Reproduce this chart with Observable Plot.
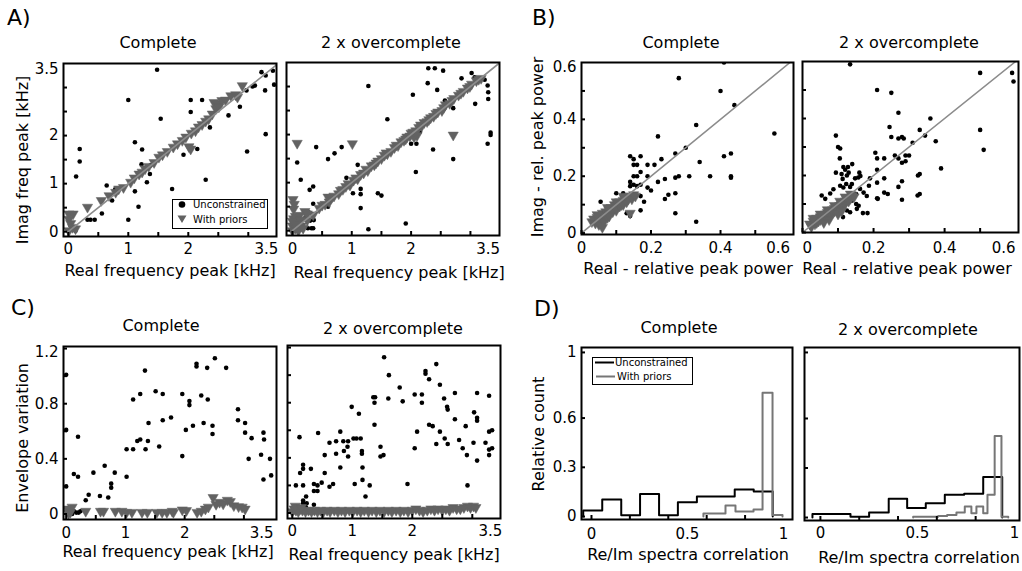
<!DOCTYPE html>
<html><head><meta charset="utf-8">
<script src="https://cdn.jsdelivr.net/npm/d3@7"></script>
<script src="https://cdn.jsdelivr.net/npm/@observablehq/plot@0.6"></script>
<style>
body{margin:0;background:#fff;}
#fig{position:relative;width:1022px;height:571px;overflow:hidden;font-family:"DejaVu Sans",sans-serif;color:#000;background:#fff;}
#fig svg{position:absolute;}
.t{position:absolute;white-space:nowrap;line-height:1;transform:translate(-50%,-50%);}
.ty{position:absolute;white-space:nowrap;line-height:1;transform:translate(-50%,-50%) rotate(-90deg);}
.tl{position:absolute;white-space:nowrap;line-height:1;transform:translate(0,-50%);}
.lg{position:absolute;box-sizing:border-box;border:1px solid #000;background:#fff;font-size:10px;line-height:1;}
.lg .tl{font-size:10px;}
</style></head><body><div id="fig"></div>
<script>
// ---------- data ----------
const titles = ["Complete", "2 x overcomplete"];
const panelLetters = ["A)", "B)", "C)", "D)"];
const xLabelA = "Real frequency peak [kHz]", yLabelA = "Imag freq peak [kHz]";
const xLabelB = "Real - relative peak power", yLabelB = "Imag - rel. peak power";
const xLabelC = "Real frequency peak [kHz]", yLabelC = "Envelope variation";
const xLabelD = "Re/Im spectra correlation", yLabelD = "Relative count";
const legendNames = ["Unconstrained", "With priors"];

const ticksFreq = [0, 0.5, 1, 1.5, 2, 2.5, 3];
const labelsFreq = [0, 1, 2, 3.5];
const ticksPow = [0, 0.1, 0.2, 0.3, 0.4, 0.5];
const labelsPow = [0, 0.2, 0.4, 0.6];
const ticksEnv = [0, 0.2, 0.4, 0.6, 0.8, 1, 1.2];
const labelsEnv = [0, 0.4, 0.8, 1.2];
const ticksCorr = [0, 0.2, 0.4, 0.6, 0.8];
const labelsCorr = [0, 0.5, 1];
const ticksCount = [0, 0.3, 0.6, 1];
const labelsCount = [0, 0.3, 0.6, 1];
const diagFreq = [0, 3.5];
const diagPow = [0, 0.6];

const a1Dots = [[1.48,3.37],[1.0,2.74],[2.04,2.74],[2.23,2.74],[2.04,2.49],[1.54,2.35],[2.86,2.60],[2.67,2.42],[2.36,2.17],[3.29,2.03],[2.98,1.67],[2.15,1.72],[1.92,1.60],[2.29,1.08],[1.73,0.89],[1.11,1.86],[1.23,1.71],[1.22,1.40],[1.31,1.03],[1.36,1.20],[1.11,0.84],[1.17,0.52],[1.0,0.25],[0.64,0.96],[0.73,0.65],[0.56,0.38],[0.37,0.25],[0.44,0.25],[0.32,0.25],[0.19,1.72],[0.19,1.46],[0.13,1.15],[0.12,0.02],[0.04,0.12],[3.22,3.32],[3.41,3.35],[3.29,3.25],[3.28,2.94],[3.43,3.06],[2.97,2.94],[3.07,3.02],[3.11,3.04],[0.78,0.88],[1.37,1.38]];
const a1Tri = [[0.01,0.37],[0.08,0.37],[0.01,0.26],[0.04,0.17],[0.07,0.09],[0.01,0.02],[0.12,0.06],[0.32,0.51],[0.55,0.65],[0.68,0.75],[0.79,0.82],[0.84,0.89],[0.92,0.92],[1.04,1.03],[1.18,1.20],[1.28,1.31],[1.34,1.36],[1.43,1.44],[1.51,1.55],[1.57,1.60],[1.65,1.67],[1.75,1.76],[1.90,1.90],[1.96,1.97],[2.01,1.77],[2.04,1.72],[2.05,2.05],[2.12,2.10],[2.23,2.23],[2.29,2.30],[2.34,2.35],[2.40,2.45],[2.43,2.69],[2.49,2.66],[2.56,2.73],[2.62,2.74],[2.71,2.83],[2.79,2.85],[2.90,3.04],[2.82,2.80],[2.46,2.56],[2.51,2.60],[1.10,1.12],[1.23,1.24],[1.82,1.83],[2.17,2.18]];

const a2Dots = [[2.29,3.38],[2.40,3.38],[2.54,3.33],[2.28,3.07],[2.44,2.93],[1.28,3.01],[2.03,2.83],[2.57,2.71],[2.71,2.55],[2.85,3.17],[3.02,3.28],[3.07,3.19],[3.24,3.14],[3.29,3.02],[3.30,2.88],[3.08,2.64],[3.30,2.74],[3.34,2.04],[3.34,1.99],[3.29,1.81],[2.71,1.49],[1.60,2.32],[2.13,2.20],[2.15,2.06],[2.09,1.81],[2.0,1.81],[2.37,1.69],[2.08,1.22],[0.40,1.74],[0.83,1.74],[0.71,1.61],[0.60,1.49],[0.08,1.42],[0.14,1.06],[0.29,0.85],[0.35,0.92],[0.35,0.56],[0.28,0.38],[0.91,1.10],[1.02,0.78],[1.15,0.87],[1.15,0.76],[1.10,1.37],[1.15,0.47],[1.44,0.78],[1.50,0.73],[0.60,0.50],[1.28,0.03],[1.91,0.15],[0.21,0.26],[0.32,0.05],[0.35,0.05],[0.26,0.05],[0.36,0.22],[0.30,0.21]];
const a2Tri = [[0.08,1.82],[1.01,1.81],[2.71,1.99],[0.21,0.40],[0.01,0.65],[0.03,0.55],[0.02,0.45],[0.0,0.1],[0.05,0.05],[0.1,0.0],[0.02,0.25],[0.1,0.2],[0.15,0.1],[0.05,0.3],[0.12,0.32],[0.0,0.0],[0.08,0.15],[0.0,0.2],[0.06,0.12],[0.14,0.22],[0.18,0.05],[0.25,0.22],[0.35,0.33],[0.45,0.47],[0.55,0.55],[0.62,0.6],[0.7,0.72],[0.78,0.77],[0.85,0.86],[0.9,0.92],[0.97,0.95],[1.03,1.05],[1.1,1.08],[1.15,1.17],[1.2,1.2],[1.27,1.25],[1.33,1.35],[1.38,1.37],[1.44,1.45],[1.5,1.5],[1.55,1.57],[1.6,1.6],[1.66,1.65],[1.72,1.73],[1.78,1.77],[1.83,1.85],[1.88,1.88],[1.93,1.95],[1.98,1.97],[2.03,2.05],[2.08,2.08],[2.13,2.15],[2.18,2.18],[2.22,2.25],[2.27,2.27],[2.33,2.35],[2.38,2.38],[2.45,2.47],[2.52,2.5],[2.58,2.62],[2.65,2.65],[2.72,2.75],[2.8,2.82],[2.88,2.9],[2.95,2.97],[3.02,3.05],[3.1,3.12],[3.18,3.17],[2.05,1.95],[2.1,1.98],[0.6,0.7],[0.25,0.35],[0.5,0.53],[0.66,0.69],[0.81,0.84],[0.94,0.98],[1.07,1.1],[1.24,1.28],[1.41,1.41],[1.58,1.62],[1.75,1.78],[1.91,1.91],[2.0,2.03],[2.16,2.2],[2.3,2.31],[2.42,2.44],[2.55,2.56],[2.69,2.71],[2.84,2.86],[2.99,3.0],[3.14,3.15]];

const b1Dots = [[0.41,0.60],[0.28,0.545],[0.40,0.50],[0.44,0.45],[0.33,0.38],[0.22,0.34],[0.30,0.30],[0.34,0.25],[0.43,0.28],[0.41,0.27],[0.27,0.28],[0.23,0.26],[0.14,0.27],[0.17,0.27],[0.15,0.26],[0.16,0.24],[0.19,0.24],[0.21,0.24],[0.15,0.24],[0.15,0.20],[0.16,0.20],[0.14,0.18],[0.17,0.215],[0.19,0.20],[0.24,0.19],[0.22,0.18],[0.19,0.16],[0.20,0.15],[0.31,0.20],[0.28,0.20],[0.27,0.195],[0.37,0.20],[0.43,0.20],[0.43,0.195],[0.27,0.14],[0.25,0.135],[0.24,0.12],[0.17,0.13],[0.18,0.11],[0.17,0.08],[0.14,0.165],[0.15,0.17],[0.13,0.07],[0.14,0.06],[0.10,0.14],[0.055,0.11],[0.27,0.07],[0.33,0.04],[0.555,0.35],[0.12,0.14],[0.16,0.165],[0.17,0.17]];
const b1Tri = [[0.03,0.04],[0.035,0.05],[0.04,0.035],[0.045,0.055],[0.05,0.045],[0.05,0.03],[0.055,0.06],[0.06,0.05],[0.06,0.07],[0.065,0.04],[0.07,0.065],[0.07,0.075],[0.075,0.055],[0.08,0.08],[0.08,0.07],[0.085,0.09],[0.09,0.075],[0.09,0.085],[0.095,0.1],[0.1,0.09],[0.1,0.08],[0.105,0.1],[0.11,0.11],[0.11,0.095],[0.115,0.1],[0.12,0.115],[0.12,0.1],[0.125,0.12],[0.13,0.11],[0.13,0.125],[0.135,0.12],[0.14,0.13],[0.145,0.12],[0.15,0.135],[0.14,0.07],[0.06,0.02],[0.08,0.06],[0.155,0.13],[0.045,0.065],[0.075,0.09],[0.1,0.11],[0.12,0.13]];

const b2Dots = [[0.134,0.59],[0.50,0.56],[0.59,0.56],[0.594,0.53],[0.21,0.50],[0.25,0.49],[0.27,0.42],[0.36,0.40],[0.33,0.36],[0.245,0.37],[0.25,0.335],[0.27,0.33],[0.28,0.335],[0.285,0.33],[0.31,0.315],[0.345,0.34],[0.375,0.32],[0.50,0.36],[0.51,0.29],[0.094,0.34],[0.10,0.30],[0.106,0.295],[0.105,0.26],[0.14,0.24],[0.205,0.28],[0.21,0.26],[0.23,0.26],[0.26,0.27],[0.29,0.27],[0.30,0.27],[0.27,0.26],[0.28,0.245],[0.29,0.25],[0.39,0.225],[0.325,0.20],[0.33,0.205],[0.28,0.18],[0.27,0.16],[0.324,0.13],[0.33,0.135],[0.28,0.115],[0.094,0.21],[0.11,0.205],[0.125,0.2],[0.113,0.188],[0.123,0.17],[0.148,0.19],[0.157,0.193],[0.163,0.198],[0.19,0.19],[0.21,0.175],[0.23,0.14],[0.24,0.135],[0.21,0.12],[0.212,0.118],[0.183,0.068],[0.17,0.068],[0.153,0.083],[0.158,0.094],[0.139,0.17],[0.134,0.16],[0.087,0.152],[0.078,0.137],[0.064,0.118],[0.054,0.13],[0.114,0.054],[0.10,0.10],[0.162,0.153],[0.172,0.14],[0.181,0.128],[0.151,0.135],[0.139,0.112],[0.151,0.1],[0.125,0.077],[0.134,0.071],[0.21,0.22],[0.23,0.19],[0.187,0.164],[0.106,0.164],[0.115,0.158],[0.12,0.22],[0.13,0.21],[0.16,0.21],[0.115,0.23],[0.128,0.23]];
const b2Tri = [[0.02,0.03],[0.025,0.02],[0.03,0.04],[0.035,0.03],[0.04,0.05],[0.04,0.035],[0.045,0.04],[0.05,0.055],[0.05,0.045],[0.055,0.05],[0.06,0.06],[0.06,0.05],[0.065,0.065],[0.065,0.055],[0.07,0.07],[0.07,0.06],[0.075,0.065],[0.08,0.075],[0.08,0.065],[0.085,0.08],[0.085,0.07],[0.09,0.085],[0.09,0.075],[0.095,0.08],[0.1,0.09],[0.1,0.08],[0.105,0.095],[0.11,0.1],[0.11,0.09],[0.115,0.105],[0.12,0.1],[0.12,0.11],[0.125,0.115],[0.13,0.11],[0.13,0.12],[0.135,0.12],[0.14,0.13],[0.145,0.125],[0.1,0.065],[0.11,0.075],[0.075,0.045],[0.06,0.035],[0.05,0.065],[0.09,0.095],[0.12,0.125],[0.03,0.05],[0.07,0.08],[0.105,0.11],[0.135,0.135]];

const c1Dots = [[0,1.01],[0,0.61],[0,0.20],[0.13,0.29],[0.20,0.27],[0.20,0.56],[0.33,0.10],[0.38,0.14],[0.46,0.30],[0.57,0.13],[0.65,0.35],[0.71,0.12],[0.76,0.22],[0.76,0.19],[0.82,0.30],[1.02,0.27],[1.02,0.47],[1.13,0.47],[1.13,0.83],[1.20,0.53],[1.25,0.87],[1.25,0.54],[1.33,1.04],[1.34,0.47],[1.38,0.53],[1.39,0.66],[1.51,0.89],[1.57,0.49],[1.63,0.87],[1.63,0.68],[1.77,0.70],[1.96,0.87],[1.96,0.42],[2.02,0.61],[2.08,0.82],[2.08,0.79],[2.14,0.64],[2.20,1.09],[2.20,1.07],[2.28,0.86],[2.32,0.66],[2.39,0.83],[2.38,1.06],[2.47,0.58],[2.47,0.64],[2.51,1.13],[2.70,1.06],[2.90,0.76],[2.90,0.68],[3.02,0.66],[3.02,0.59],[3.08,0.40],[3.13,0.55],[3.29,0.43],[3.33,0.59],[3.34,0.54],[3.33,0.25],[3.44,0.40],[3.46,0.28],[0.13,0.02],[0.17,0.01],[0.21,0.01],[0.24,0.02],[0.10,0.0]];
const c1Tri = [[0.02,0.036],[0.07,0.012],[0.1,0.05],[0.04,0.005],[0.33,0.02],[0.58,0.02],[0.63,0.02],[0.83,0.02],[0.94,0.02],[1.02,0.012],[1.11,0.012],[1.28,0.012],[1.37,0.012],[1.53,0.012],[1.62,0.012],[1.70,0.012],[1.79,0.02],[1.81,0.012],[1.96,0.03],[2.03,0.025],[2.21,0.012],[2.28,0.02],[2.35,0.036],[2.40,0.05],[2.48,0.12],[2.53,0.07],[2.59,0.085],[2.65,0.073],[2.72,0.10],[2.77,0.09],[2.83,0.06],[2.91,0.053],[2.97,0.05],[3.02,0.036]];

const c2Dots = [[1.53,1.13],[1.61,1.00],[1.60,0.83],[1.35,0.84],[1.38,0.84],[1.37,0.80],[1.37,0.64],[0.99,0.77],[1.11,0.72],[1.79,0.91],[1.84,0.81],[2.22,1.03],[2.22,1.01],[2.28,0.97],[2.40,1.08],[2.46,0.93],[2.04,0.86],[2.16,0.86],[2.16,0.80],[2.53,0.83],[2.58,0.77],[2.59,0.75],[2.71,0.87],[2.71,0.68],[3.08,0.87],[3.28,0.85],[3.03,0.73],[3.08,0.69],[3.08,0.67],[2.89,0.63],[2.08,0.59],[2.28,0.64],[2.34,0.63],[2.46,0.59],[2.54,0.54],[2.59,0.50],[2.40,0.50],[2.78,0.53],[2.84,0.47],[2.91,0.42],[3.02,0.51],[3.08,0.38],[3.22,0.51],[3.28,0.59],[3.33,0.60],[3.28,0.46],[3.33,0.47],[3.28,0.42],[2.04,0.47],[2.92,0.20],[1.92,0.21],[1.47,0.48],[1.47,0.41],[1.52,0.42],[1.16,0.45],[1.16,0.43],[1.17,0.33],[1.17,0.24],[1.29,0.20],[1.22,0.12],[1.04,0.21],[1.02,0.54],[1.07,0.54],[1.14,0.54],[0.93,0.52],[0.92,0.48],[0.93,0.41],[0.85,0.52],[0.86,0.45],[0.80,0.59],[0.80,0.33],[0.73,0.43],[0.73,0.52],[0.62,0.51],[0.54,0.42],[0.54,0.29],[0.62,0.19],[0.68,0.21],[0.43,0.58],[0.49,0.22],[0.42,0.20],[0.42,0.16],[0.36,0.21],[0.36,0.16],[0.31,0.32],[0.18,0.35],[0.18,0.32],[0.13,0.29],[0.18,0.20],[0.12,0.55],[0.06,0.20],[0.18,0.09],[0.23,0.12],[0.18,0.07],[0.23,0.04],[0.36,0.06],[0.31,0.01],[0.24,0.07],[0.32,0.0]];
const c2Tri = [[0.0,0.01],[0.03,0.03],[0.06,0.02],[0.1,0.01],[0.13,0.03],[0.17,0.02],[0.22,0.01],[0.27,0.02],[0.32,0.01],[0.37,0.02],[0.42,0.01],[0.47,0.02],[0.52,0.01],[0.58,0.02],[0.63,0.01],[0.7,0.02],[0.76,0.01],[0.82,0.02],[0.88,0.01],[0.95,0.02],[1.01,0.01],[1.08,0.02],[1.14,0.01],[1.2,0.02],[1.27,0.01],[1.33,0.02],[1.4,0.01],[1.46,0.02],[1.53,0.01],[1.6,0.02],[1.66,0.01],[1.73,0.02],[1.8,0.01],[1.86,0.02],[1.93,0.01],[2.0,0.02],[2.06,0.03],[2.12,0.02],[2.18,0.01],[2.25,0.02],[2.31,0.03],[2.37,0.02],[2.43,0.03],[2.5,0.02],[2.56,0.03],[2.62,0.02],[2.68,0.04],[2.74,0.03],[2.8,0.03],[2.86,0.04],[2.92,0.05],[2.97,0.04],[3.02,0.05],[3.06,0.04],[0.05,0.05],[0.15,0.04]];

const d1UnconEdges = [-0.043,0.056,0.155,0.253,0.352,0.45,0.549,0.648,0.746,0.845,0.944];
const d1UnconCounts = [0.037,0.104,0.008,0.138,0.008,0.087,0.122,0.122,0.165,0.152];
const d1PriorEdges = [0.583,0.64,0.698,0.75,0.797,0.844,0.891,0.943,0.995];
const d1PriorCounts = [0.018,0.018,0.067,0.03,0.03,0.043,0.755,0.01];
const d2UnconEdges = [-0.041,0.057,0.155,0.251,0.352,0.447,0.543,0.641,0.741,0.839,0.937];
const d2UnconCounts = [0.022,0.022,0.004,0.03,0.114,0.057,0.087,0.138,0.144,0.246];
const d2PriorEdges = [0.478,0.543,0.607,0.653,0.701,0.744,0.778,0.804,0.839,0.861,0.898,0.933,0.968];
const d2PriorCounts = [0.004,0.004,0.01,0.016,0.03,0.067,0.026,0.067,0.026,0.138,0.494,0.005];

// ---------- styling ----------
const DOT_R = 2.3, TRI_R = 3.8, TRI_FILL = "#626262", DIAG = "#8c8c8c", PRIOR_LINE = "#767676";
const fig = document.getElementById("fig");

function addText(cls, txt, x, y, size) {
  const d = document.createElement("div");
  d.className = cls; d.textContent = txt;
  d.style.left = x + "px"; d.style.top = y + "px"; d.style.fontSize = size + "px";
  fig.appendChild(d);
  return d;
}

function scatterMarks(dots, tri, diag) {
  const m = [
    Plot.dot(dots, {x: d => d[0], y: d => d[1], r: DOT_R, fill: "#000", clip: true}),
    Plot.dot(tri, {x: d => d[0], y: d => d[1], r: TRI_R, symbol: "triangle", rotate: 180, fill: TRI_FILL, stroke: TRI_FILL, strokeWidth: 0.5, clip: true})
  ];
  if (diag) m.push(Plot.line(diag, {x: d => d, y: d => d, stroke: DIAG, strokeWidth: 1.6, clip: true}));
  return m;
}

function histPoints(edges, counts) {
  const pts = [{x: edges[0], y: 0}];
  counts.forEach((c, i) => pts.push({x: edges[i], y: c}));
  pts.push({x: edges[edges.length - 1], y: counts[counts.length - 1]});
  pts.push({x: edges[edges.length - 1], y: 0});
  return pts;
}
function histMarks(ue, uc, pe, pc) {
  return [
    Plot.line(histPoints(ue, uc), {x: "x", y: "y", curve: "step-after", stroke: "#000", strokeWidth: 2}),
    Plot.line(histPoints(pe, pc), {x: "x", y: "y", curve: "step-after", stroke: PRIOR_LINE, strokeWidth: 2})
  ];
}

function panel(o) {
  const [l, r, t, b] = o.frame;
  const w = r - l, h = b - t;
  const mL = 50, mR = 30, mT = 15, mB = 35;
  const fmt = d => String(d);
  const xl = o.xLabels, yl = o.yLabels || [];
  const marks = [
    ...o.marks,
    Plot.tickX(o.xTicks, {x: d => d, stroke: "#000", strokeWidth: 2, insetTop: h - 4}),
    Plot.tickY(o.yTicks, {y: d => d, stroke: "#000", strokeWidth: 2, insetRight: w - 4}),
    Plot.frame({stroke: "#000", strokeWidth: 2}),
    Plot.text(xl.slice(0, 1), {x: d => d, text: fmt, frameAnchor: "bottom", lineAnchor: "top", dy: o.xPad, textAnchor: o.firstAnchor || "middle", fontSize: 15, fill: "#000"}),
    Plot.text(xl.slice(1, -1), {x: d => d, text: fmt, frameAnchor: "bottom", lineAnchor: "top", dy: o.xPad, textAnchor: "middle", fontSize: 15, fill: "#000"}),
    Plot.text(xl.slice(-1), {x: d => d, text: fmt, frameAnchor: "bottom", lineAnchor: "top", dy: o.xPad, textAnchor: o.lastAnchor || "end", fontSize: 15, fill: "#000"})
  ];
  if (yl.length) {
    marks.push(
      Plot.text(yl.slice(0, -1), {y: d => d, text: fmt, frameAnchor: "left", dx: -5, textAnchor: "end", fontSize: 15, fill: "#000"}),
      Plot.text(yl.slice(-1), {y: d => d, text: fmt, frameAnchor: "left", dx: -5, dy: o.topDy || 0, textAnchor: "end", fontSize: 15, fill: "#000"})
    );
  }
  const svg = Plot.plot({
    width: w + mL + mR, height: h + mT + mB,
    marginLeft: mL, marginRight: mR, marginTop: mT, marginBottom: mB,
    style: {background: "transparent", overflow: "visible", fontFamily: "DejaVu Sans", fontSize: "15px", maxWidth: "none"},
    x: {domain: o.xDomain, axis: null},
    y: {domain: o.yDomain, axis: null},
    marks
  });
  svg.style.left = (l - mL) + "px";
  svg.style.top = (t - mT) + "px";
  fig.appendChild(svg);
}

// ---------- panels ----------
const F = {
  a1: [63, 276, 63, 236], a2: [286, 499, 62, 235],
  b1: [581, 793, 62, 234], b2: [802, 1018, 61, 232],
  c1: [63, 276, 346, 519], c2: [287, 500, 345, 518],
  d1: [581, 792, 347, 519], d2: [804, 1019, 347, 520]
};

panel({frame: F.a1, xDomain: [-0.08, 3.47], yDomain: [-0.1, 3.5], xTicks: ticksFreq, yTicks: ticksFreq,
  xLabels: labelsFreq, yLabels: labelsFreq, xPad: 7, topDy: 6, marks: scatterMarks(a1Dots, a1Tri, diagFreq)});
panel({frame: F.a2, xDomain: [-0.1, 3.49], yDomain: [-0.1, 3.5], xTicks: ticksFreq, yTicks: ticksFreq,
  xLabels: labelsFreq, xPad: 8, marks: scatterMarks(a2Dots, a2Tri, diagFreq)});
panel({frame: F.b1, xDomain: [0, 0.61], yDomain: [-0.005, 0.6], xTicks: ticksPow, yTicks: ticksPow,
  xLabels: labelsPow, yLabels: labelsPow, xPad: 8, topDy: 5, marks: scatterMarks(b1Dots, b1Tri, diagPow)});
panel({frame: F.b2, xDomain: [0, 0.608], yDomain: [0, 0.6], xTicks: ticksPow, yTicks: ticksPow,
  xLabels: labelsPow, xPad: 10, firstAnchor: "start", marks: scatterMarks(b2Dots, b2Tri, diagPow)});
panel({frame: F.c1, xDomain: [-0.045, 3.55], yDomain: [-0.04, 1.215], xTicks: ticksFreq, yTicks: ticksEnv,
  xLabels: labelsFreq, yLabels: labelsEnv, xPad: 8, topDy: 4, marks: scatterMarks(c1Dots, c1Tri, null)});
panel({frame: F.c2, xDomain: [-0.08, 3.47], yDomain: [-0.04, 1.215], xTicks: ticksFreq, yTicks: ticksEnv,
  xLabels: labelsFreq, xPad: 7, marks: scatterMarks(c2Dots, c2Tri, null)});
panel({frame: F.d1, xDomain: [-0.052, 1.047], yDomain: [-0.018, 1.03], xTicks: ticksCorr, yTicks: ticksCount,
  xLabels: labelsCorr, yLabels: labelsCount, xPad: 9, lastAnchor: "middle",
  marks: histMarks(d1UnconEdges, d1UnconCounts, d1PriorEdges, d1PriorCounts)});
panel({frame: F.d2, xDomain: [-0.082, 1.026], yDomain: [-0.018, 1.03], xTicks: ticksCorr, yTicks: ticksCount,
  xLabels: labelsCorr, xPad: 7, lastAnchor: "middle",
  marks: histMarks(d2UnconEdges, d2UnconCounts, d2PriorEdges, d2PriorCounts)});

// ---------- text ----------
addText("tl", panelLetters[0], 7, 17.5, 22);
addText("tl", panelLetters[1], 532, 17.5, 22);
addText("tl", panelLetters[2], 11, 308, 22);
addText("tl", panelLetters[3], 534, 309, 22);

addText("t", titles[0], 158, 42.5, 16);
addText("t", titles[1], 391, 43, 16);
addText("t", titles[0], 681, 42.5, 16);
addText("t", titles[1], 909, 43, 16);
addText("t", titles[0], 161, 326, 16);
addText("t", titles[1], 393, 328.5, 16);
addText("t", titles[0], 679, 327.5, 16);
addText("t", titles[1], 908, 330, 16);

addText("t", xLabelA, 170, 271, 16);
addText("t", xLabelA, 399, 273, 16);
addText("t", xLabelB, 688, 269, 16);
addText("t", xLabelB, 907, 269, 16);
addText("t", xLabelC, 168, 552, 16);
addText("t", xLabelC, 394, 555, 16);
addText("t", xLabelD, 688, 555, 16);
addText("t", xLabelD, 919, 558, 16);

addText("ty", yLabelA, 23, 160, 16);
addText("ty", yLabelB, 538, 147, 16);
addText("ty", yLabelC, 23, 438, 16);
addText("ty", yLabelD, 539, 434, 16);

// ---------- legends ----------
const lgA = document.createElement("div");
lgA.className = "lg";
Object.assign(lgA.style, {left: "172px", top: "199px", width: "96px", height: "30px"});
lgA.innerHTML =
  '<svg width="20" height="28" style="position:absolute;left:0;top:0">' +
  '<circle cx="9" cy="4.5" r="3.3" fill="#000"/>' +
  '<path d="M4.5,15.5 L13.5,15.5 L9,23 Z" fill="' + TRI_FILL + '"/></svg>';
fig.appendChild(lgA);
{
  const t1 = document.createElement("div"); t1.className = "tl"; t1.textContent = legendNames[0];
  Object.assign(t1.style, {left: "20px", top: "5px"}); lgA.appendChild(t1);
  const t2 = document.createElement("div"); t2.className = "tl"; t2.textContent = legendNames[1];
  Object.assign(t2.style, {left: "20px", top: "19.5px"}); lgA.appendChild(t2);
}

const lgD = document.createElement("div");
lgD.className = "lg";
Object.assign(lgD.style, {left: "592px", top: "357px", width: "101px", height: "28px"});
lgD.innerHTML =
  '<svg width="24" height="26" style="position:absolute;left:0;top:0">' +
  '<line x1="2" x2="21" y1="4.5" y2="4.5" stroke="#000" stroke-width="2"/>' +
  '<line x1="3" x2="22" y1="18.5" y2="18.5" stroke="' + PRIOR_LINE + '" stroke-width="2"/></svg>';
fig.appendChild(lgD);
{
  const t1 = document.createElement("div"); t1.className = "tl"; t1.textContent = legendNames[0];
  Object.assign(t1.style, {left: "22px", top: "5px"}); lgD.appendChild(t1);
  const t2 = document.createElement("div"); t2.className = "tl"; t2.textContent = legendNames[1];
  Object.assign(t2.style, {left: "24px", top: "19px"}); lgD.appendChild(t2);
}
</script></body></html>
